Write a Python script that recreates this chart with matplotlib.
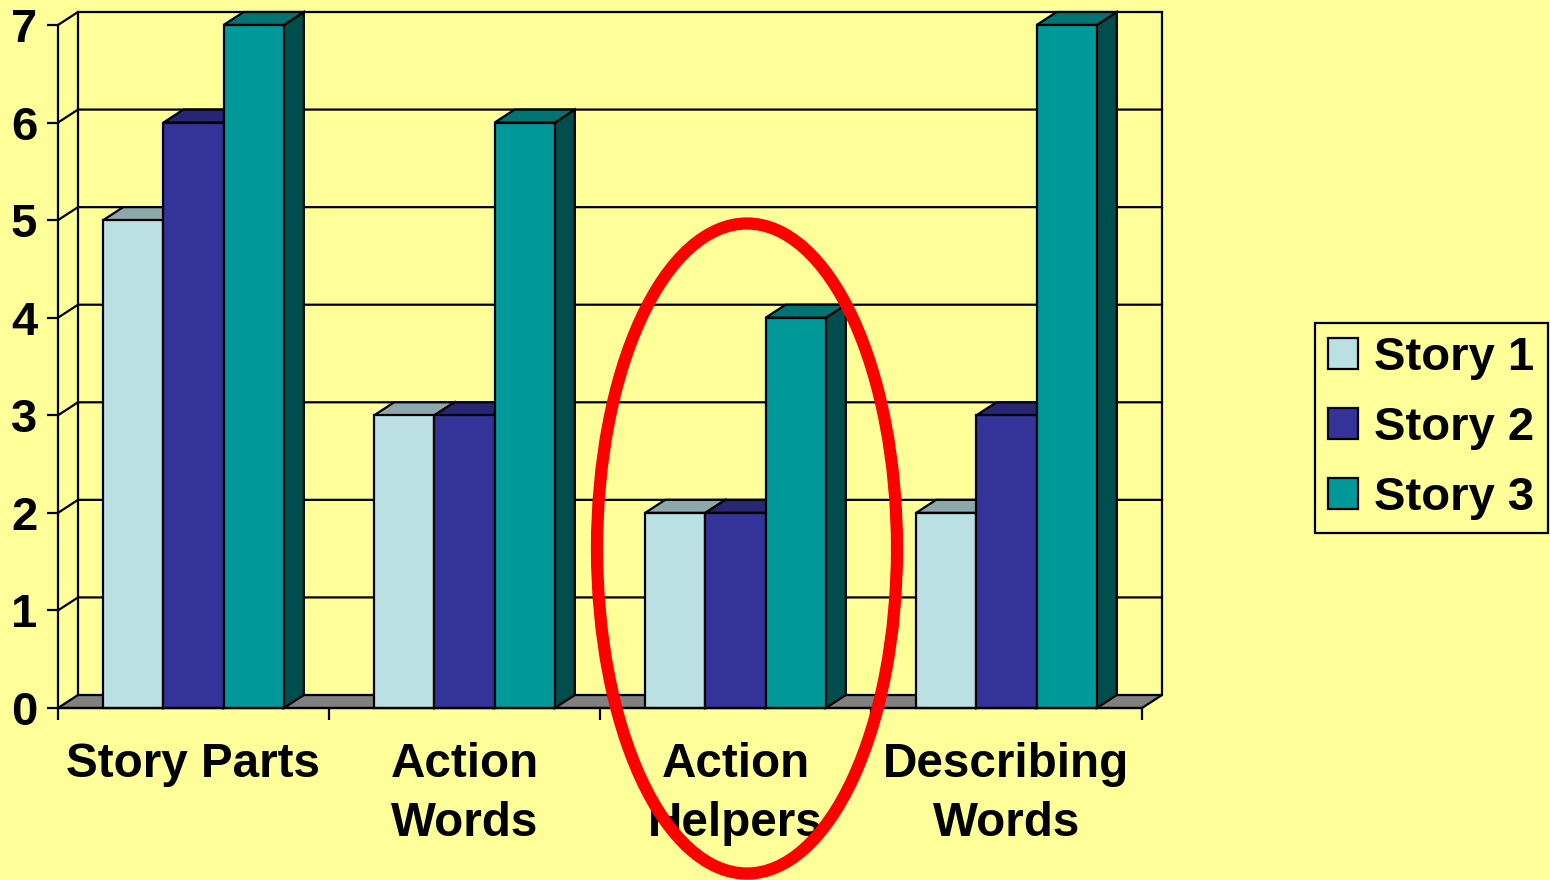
import matplotlib
matplotlib.use("Agg")
import matplotlib.pyplot as plt
from matplotlib.patches import Polygon, Ellipse, Patch
from matplotlib.lines import Line2D
from matplotlib.transforms import IdentityTransform
import numpy as np

# ---------------- data ----------------
categories = ["Story Parts", "Action\nWords", "Action\nHelpers", "Describing\nWords"]
series_names = ["Story 1", "Story 2", "Story 3"]
story1 = [5, 3, 2, 2]
story2 = [6, 3, 2, 3]
story3 = [7, 6, 4, 7]
yticks = [0, 1, 2, 3, 4, 5, 6, 7]

# ---------------- styles ----------------
BG = "#FFFF99"
front_colors = ["#BBE0E3", "#333399", "#009999"]
top_colors = ["#8CA8AA", "#262673", "#007373"]
side_colors = ["#5E7072", "#1A1A4D", "#004D4D"]
FLOOR = "#808080"
LW = 1.6
DX, DY = 20, 13  # depth offset in pixels

plt.rcParams['font.family'] = ['Liberation Sans', 'DejaVu Sans']
plt.rcParams['font.weight'] = 'bold'

fig = plt.figure(figsize=(15.5, 8.8), dpi=100, facecolor=BG)
ax = fig.add_axes([58 / 1550, 172 / 880, 1084 / 1550, 683 / 880])
ax.set_facecolor('none')
ncat = len(categories)
ax.set_xlim(0, ncat)
ax.set_ylim(0, max(yticks))

ident = IdentityTransform()


def px(x, y, back=False):
    p = ax.transData.transform((x, y))
    if back:
        p = p + np.array([DX, DY])
    return p


def poly(points, fc, z, ec="black"):
    p = Polygon(np.array(points), closed=True, facecolor=fc, edgecolor=ec,
                linewidth=LW, transform=ident, clip_on=False, zorder=z)
    ax.add_artist(p)


def line(points, z=1, color="black"):
    pts = np.array(points)
    l = Line2D(pts[:, 0], pts[:, 1], color=color, linewidth=LW, transform=ident,
               clip_on=False, zorder=z, solid_capstyle='projecting')
    ax.add_artist(l)


ymax = max(yticks)
# back wall frame + gridlines
for v in yticks[1:]:
    line([px(0, v), px(0, v, True), px(ncat, v, True)], z=0.6)
line([px(0, 0, True), px(0, ymax, True)], z=0.6)
line([px(ncat, 0, True), px(ncat, ymax, True)], z=0.6)
# floor
poly([px(0, 0), px(ncat, 0), px(ncat, 0, True), px(0, 0, True)], FLOOR, z=0.7)

# bars
series = [story1, story2, story3]
nser = len(series)
gap = 1.5
w = 1.0 / (nser + gap)
for i in range(ncat):
    for j, vals in enumerate(series):
        v = vals[i]
        x0 = i + gap / 2 * w + j * w
        x1 = x0 + w
        z = 2 + j * 0.1
        # side face
        poly([px(x1, 0), px(x1, 0, True), px(x1, v, True), px(x1, v)], side_colors[j], z)
        # top face
        poly([px(x0, v), px(x1, v), px(x1, v, True), px(x0, v, True)], top_colors[j], z)
        # front face
        poly([px(x0, 0), px(x1, 0), px(x1, v), px(x0, v)], front_colors[j], z + 0.01)

# axes / ticks
for s in ["top", "right"]:
    ax.spines[s].set_visible(False)
for s in ["left", "bottom"]:
    ax.spines[s].set_linewidth(LW)
    ax.spines[s].set_zorder(3)
ax.set_yticks(yticks)
ax.set_yticklabels([str(t) for t in yticks])
ax.tick_params(axis='y', labelsize=34, length=8, width=LW, pad=7, direction='out')
ax.set_xticks(np.arange(ncat + 1))
ax.set_xticklabels([])
ax.set_xticks(np.arange(ncat) + 0.5, minor=True)
ax.set_xticklabels(categories, minor=True, fontsize=34.3, linespacing=1.4)
ax.tick_params(axis='x', which='major', length=8.5, width=LW, direction='out')
ax.tick_params(axis='x', which='minor', length=0, pad=24.5)

# legend
handles = [Patch(facecolor=c, edgecolor='black', linewidth=LW) for c in front_colors]
leg = fig.legend(handles, series_names, loc='center left',
                 bbox_to_anchor=(1315 / 1550, 1 - 428 / 880), borderaxespad=0,
                 fontsize=34, frameon=True, fancybox=False, framealpha=1,
                 facecolor=BG, edgecolor='black', handlelength=0.62,
                 handleheight=0.62, handletextpad=0.36, labelspacing=0.55,
                 borderpad=0.28)
leg.get_frame().set_linewidth(LW)

# highlight ellipse
ell = Ellipse((747 / 1550, 1 - 548.5 / 880), 300 / 1550, 650 / 880,
              transform=fig.transFigure, fill=False, edgecolor='#FF0000',
              linewidth=8.8, zorder=10)
fig.patches.append(ell)

fig.savefig("out.png", dpi=100, facecolor=BG)
